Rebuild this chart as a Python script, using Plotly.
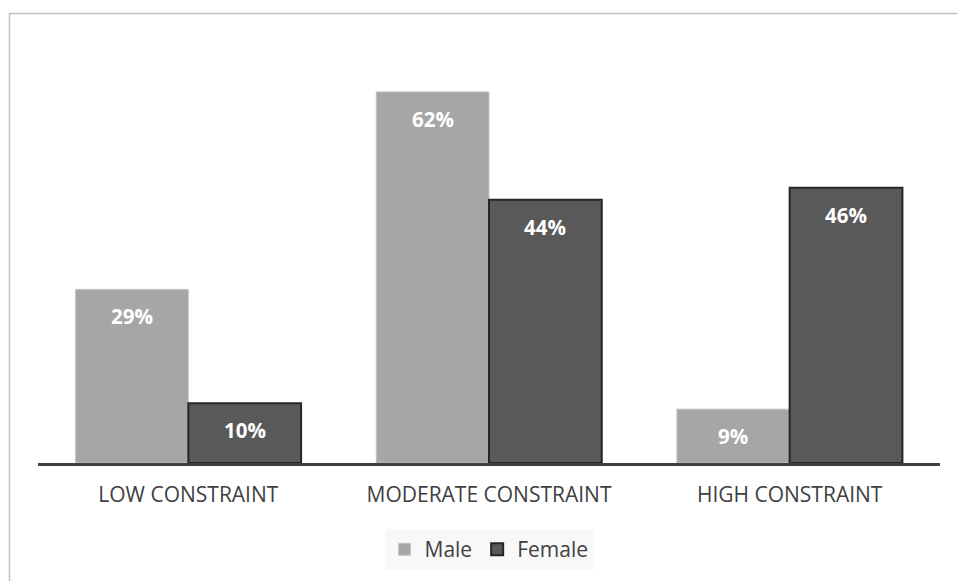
import plotly.graph_objects as go

categories = ["LOW CONSTRAINT", "MODERATE CONSTRAINT", "HIGH CONSTRAINT"]
male = [29, 62, 9]
female = [10, 44, 46]
series_names = ["Male", "Female"]

W, H = 957, 581
ml, mr, mt, mb = 38, 17, 44, 117
pw = W - ml - mr
ph = H - mt - mb
ymax = 70
FONT = "Open Sans"

fig = go.Figure()
fig.add_trace(go.Bar(name=series_names[0], x=categories, y=male,
                     marker=dict(color="#a6a6a6", line=dict(color="#c4c4c4", width=1))))
fig.add_trace(go.Bar(name=series_names[1], x=categories, y=female,
                     marker=dict(color="#595959", line=dict(color="#262626", width=2))))

# value labels (white bold, inside end)
bar_w_px = pw / 3 * 0.75 / 2
annotations = []
for vals, shift in ((male, -bar_w_px / 2), (female, bar_w_px / 2)):
    for c, v in zip(categories, vals):
        annotations.append(dict(x=c, y=v, xref="x", yref="y", text=f"<b>{v}%</b>",
                                showarrow=False, xshift=shift, yshift=-27,
                                font=dict(family=FONT, size=20.5, color="white")))

fig.update_layout(
    width=W, height=H,
    margin=dict(l=ml, r=mr, t=mt, b=mb),
    paper_bgcolor="white", plot_bgcolor="white",
    barmode="group", bargap=0.25, bargroupgap=0,
    font=dict(family=FONT, color="#404040"),
    xaxis=dict(showline=True, linecolor="#404040", linewidth=3, ticks="",
               tickfont=dict(size=21, color="#404040"), showgrid=False,
               ticklabelstandoff=11),
    yaxis=dict(range=[0, ymax], visible=False, showgrid=False),
    legend=dict(orientation="h", x=0.5, xanchor="center", y=-0.155, yanchor="top",
                bgcolor="#f8f8f8", font=dict(size=21, color="#404040"),
                itemwidth=30, traceorder="normal"),
    annotations=annotations,
    shapes=[dict(type="rect", xref="paper", yref="paper",
                 x0=(9.5 - ml) / pw, x1=(W + 5 - ml) / pw,
                 y0=(ph + mt - (H + 5)) / ph, y1=(ph + mt - 13.5) / ph,
                 line=dict(color="#bfbfbf", width=1.5), layer="below")],
)

fig.write_html("out.html")
